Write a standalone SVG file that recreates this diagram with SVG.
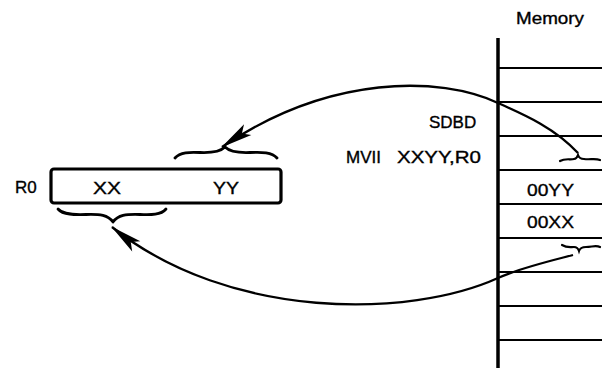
<svg xmlns="http://www.w3.org/2000/svg" width="602" height="370" viewBox="0 0 602 370">
<style>
text{font-family:"Liberation Sans",Arial,sans-serif;font-size:17px;fill:#000;stroke:#000;stroke-width:0.35}
.mem{stroke:#000;fill:none}
.brace{stroke:#000;stroke-width:2.8;fill:none;stroke-linecap:round;stroke-linejoin:round}
.small{stroke:#000;stroke-width:2.2;fill:none;stroke-linecap:round}
.conn{stroke:#000;stroke-width:2.3;fill:none}
</style>
<defs>
<marker id="ah" markerUnits="userSpaceOnUse" viewBox="-34 -8 36 16" refX="0" refY="0" markerWidth="36" markerHeight="16" orient="auto">
<path d="M1,0 L-31,-6.5 L-24,0 L-31,6.5 Z" fill="#000"/>
</marker>
</defs>
<rect width="602" height="370" fill="#fff"/>
<g id="memory">
<text x="516" y="24" textLength="68" lengthAdjust="spacingAndGlyphs">Memory</text>
<line class="mem" x1="498" y1="38" x2="498" y2="368" stroke-width="3.5"/>
<g class="mem" stroke-width="2">
<line x1="498" y1="68" x2="602" y2="68"/>
<line x1="498" y1="102" x2="602" y2="102"/>
<line x1="498" y1="136" x2="602" y2="136"/>
<line x1="498" y1="170" x2="602" y2="170"/>
<line x1="498" y1="204" x2="602" y2="204"/>
<line x1="498" y1="238" x2="602" y2="238"/>
<line x1="498" y1="272" x2="602" y2="272"/>
<line x1="498" y1="306" x2="602" y2="306"/>
<line x1="498" y1="340" x2="602" y2="340"/>
</g>
<text x="527" y="196" textLength="47" lengthAdjust="spacingAndGlyphs">00YY</text>
<text x="527" y="228" textLength="47" lengthAdjust="spacingAndGlyphs">00XX</text>
<path class="small" d="M560,161 C565,158 570,160 574,159 C576,159 577,158 578,155 C579,158 581,159 584,159 C590,160 595,158 600,160"/>
<path class="small" d="M562,245 C567,248 570,247 574,247 C577,247 578,248 579,251 C580,248 582,247 586,247 C592,247 596,245 600,247"/>
</g>
<g id="labels">
<text x="429" y="128">SDBD</text>
<text x="346" y="163">MVII <tspan x="397" textLength="84" lengthAdjust="spacingAndGlyphs">XXYY,R0</tspan></text>
</g>
<g id="register">
<text x="15" y="193">R0</text>
<rect x="51" y="169" width="230" height="34" rx="3" fill="none" stroke="#000" stroke-width="3.2"/>
<text x="93" y="194" textLength="28" lengthAdjust="spacingAndGlyphs">XX</text>
<text x="213" y="194" textLength="26" lengthAdjust="spacingAndGlyphs">YY</text>
<path class="brace" d="M175,158 C180,152 190,152 200,152.5 C212,153 220,152 225,147 C230,152 238,153 250,152.5 C262,152 272,152 277,158"/>
<path class="brace" d="M58,209 C63,215 75,215 86,214.5 C100,214 108,215 113,222 C118,215 126,214 140,214.5 C151,215 161,215 166,209"/>
</g>
<g id="connectors">
<path class="conn" marker-end="url(#ah)" d="M578,153 C555,128 525,115 498,103 C440,76 330,74 222,147"/>
<path class="conn" marker-end="url(#ah)" d="M573,255 C550,261 520,268 498,278 C410,318 230,321 112,227"/>
</g>
</svg>
